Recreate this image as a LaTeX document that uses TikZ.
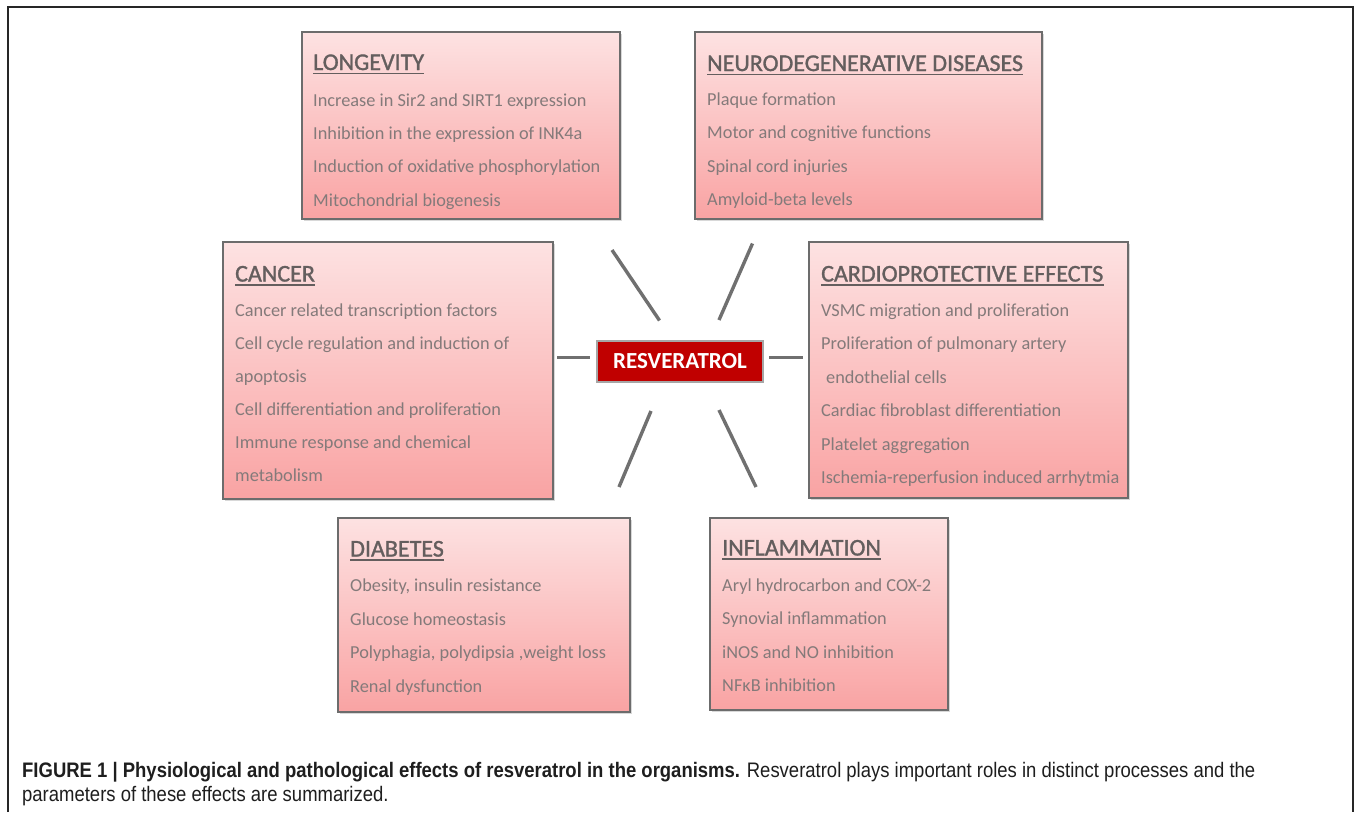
\documentclass[tikz,border=0pt]{standalone}
\usepackage{fontspec}
\setmainfont{Carlito}
\newfontfamily\titlefont[FakeBold=1.3]{Carlito}
\newfontfamily\capfont[FakeStretch=0.88]{Liberation Sans}
\usetikzlibrary{shadows,fit}
\definecolor{boxtop}{RGB}{253,226,226}
\definecolor{boxbot}{RGB}{249,163,163}
\definecolor{boxline}{RGB}{108,108,108}
\definecolor{bodytxt}{RGB}{132,122,122}
\definecolor{titletxt}{RGB}{100,94,94}
\definecolor{resred}{RGB}{192,0,0}
\definecolor{connc}{RGB}{112,112,112}
\definecolor{captxtc}{RGB}{30,30,30}
\tikzset{
  effbox/.style={rectangle, draw=boxline, line width=2.6pt, top color=boxtop, bottom color=boxbot,
    inner sep=0pt, drop shadow={opacity=0.3, shadow xshift=1.5pt, shadow yshift=-1.5pt}},
  efftitle/.style={inner sep=0pt, text=titletxt, font=\titlefont\fontsize{24}{28}\selectfont},
  bodytext/.style={inner sep=0pt, text=bodytxt, font=\fontsize{18.3}{22}\selectfont},
  uline/.style={draw=titletxt, line width=1.7pt},
  resbox/.style={rectangle, fill=resred, draw=gray!70, line width=1.2pt, minimum width=166pt,
    minimum height=41pt, inner sep=0pt, text=white, font=\fontsize{23}{27}\selectfont\bfseries},
  connector/.style={draw=connc, line width=3.4pt},
  frameline/.style={draw=black!85, line width=1.4pt},
  captxt/.style={inner sep=0pt, text=captxtc, font=\capfont\fontsize{21}{24}\selectfont}
}
\newcommand\efftitleat[4]{% name, x, y, text
  \node[efftitle, anchor=base west] (#1) at (#2,#3) {#4};
  \draw[uline] ([yshift=-3.5pt]#1.base west) -- ([yshift=-3.5pt]#1.base east);}
\newcommand\efflines[5]{% name, x, y0, step, list
  \foreach \t [count=\i] in {#5} {\node[bodytext, anchor=base west] (#1-\i) at (#2, {#3+(\i-1)*#4}) {\t};}}
\begin{document}
\begin{tikzpicture}[x=1pt,y=-1pt]
\useasboundingbox (0,0) rectangle (1356,812);
\fill[white] (0,0) rectangle (1356,812);
% outer frame
\coordinate (fbl) at (8,812);
\coordinate (ftl) at (8,7);
\coordinate (ftr) at (1353,7);
\coordinate (fbr) at (1353,812);
\draw[frameline] (fbl) -- (ftl) -- (ftr) -- (fbr);

% boxes
\node[effbox, fit={(302,32) (620,219)}] (lon) {};
\node[effbox, fit={(695,32) (1042,219)}] (neu) {};
\node[effbox, fit={(223,242) (553,499)}] (can) {};
\node[effbox, fit={(809,242) (1128,498)}] (car) {};
\node[effbox, fit={(338,518) (630,712)}] (dia) {};
\node[effbox, fit={(710,518) (948,710)}] (inf) {};

% LONGEVITY
\efftitleat{lont}{313}{70}{LONGEVITY}
\efflines{lonl}{313}{106}{33.4}{Increase in Sir2 and SIRT1 expression,Inhibition in the expression of INK4a,Induction of oxidative phosphorylation,Mitochondrial biogenesis}

% NEURODEGENERATIVE
\efftitleat{neut}{707}{71}{NEURODEGENERATIVE DISEASES}
\efflines{neul}{707}{105}{33.5}{Plaque formation,Motor and cognitive functions,Spinal cord injuries,Amyloid-beta levels}

% CANCER
\efftitleat{cant}{235}{281.5}{CANCER}
\efflines{canl}{235}{316.5}{33}{Cancer related transcription factors,Cell cycle regulation and induction of,apoptosis,Cell differentiation and proliferation,Immune response and chemical,metabolism}

% CARDIO
\efftitleat{cart}{821}{281.5}{CARDIOPROTECTIVE EFFECTS}
\efflines{carl}{821}{316.5}{33.4}{VSMC migration and proliferation,Proliferation of pulmonary artery,\hspace{5pt}endothelial cells,Cardiac fibroblast differentiation,Platelet aggregation,Ischemia-reperfusion induced arrhytmia}

% DIABETES
\efftitleat{diat}{350}{556.5}{DIABETES}
\efflines{dial}{350}{591.5}{33.7}{{Obesity, insulin resistance},Glucose homeostasis,{Polyphagia, polydipsia ,weight loss},Renal dysfunction}

% INFLAMMATION
\efftitleat{inft}{722}{555.5}{INFLAMMATION}
\efflines{infl}{722}{591.5}{33.4}{Aryl hydrocarbon and COX-2,Synovial inflammation,iNOS and NO inhibition,NFκB inhibition}

% centre
\node[resbox] (res) at (680,361.5) {RESVERATROL};

% connectors
\coordinate (ula) at (612,250); \coordinate (ulb) at (659.5,320.5);
\coordinate (ura) at (752.5,243.5); \coordinate (urb) at (719,320);
\coordinate (lha) at (557,357.5); \coordinate (lhb) at (590,357.5);
\coordinate (rha) at (769,357.5); \coordinate (rhb) at (803,357.5);
\coordinate (lla) at (651,411); \coordinate (llb) at (619,487);
\coordinate (lra) at (719,410); \coordinate (lrb) at (756,487);
\draw[connector] (ula) -- (ulb);
\draw[connector] (ura) -- (urb);
\draw[connector] (lha) -- (lhb);
\draw[connector] (rha) -- (rhb);
\draw[connector] (lla) -- (llb);
\draw[connector] (lra) -- (lrb);

% caption
\node[captxt, anchor=base west] (cap1) at (22,777) {\textbf{FIGURE 1 | Physiological and pathological effects of resveratrol in the organisms.} Resveratrol plays important roles in distinct processes and the};
\node[captxt, anchor=base west] (cap2) at (22,801) {parameters of these effects are summarized.};
\end{tikzpicture}
\end{document}
